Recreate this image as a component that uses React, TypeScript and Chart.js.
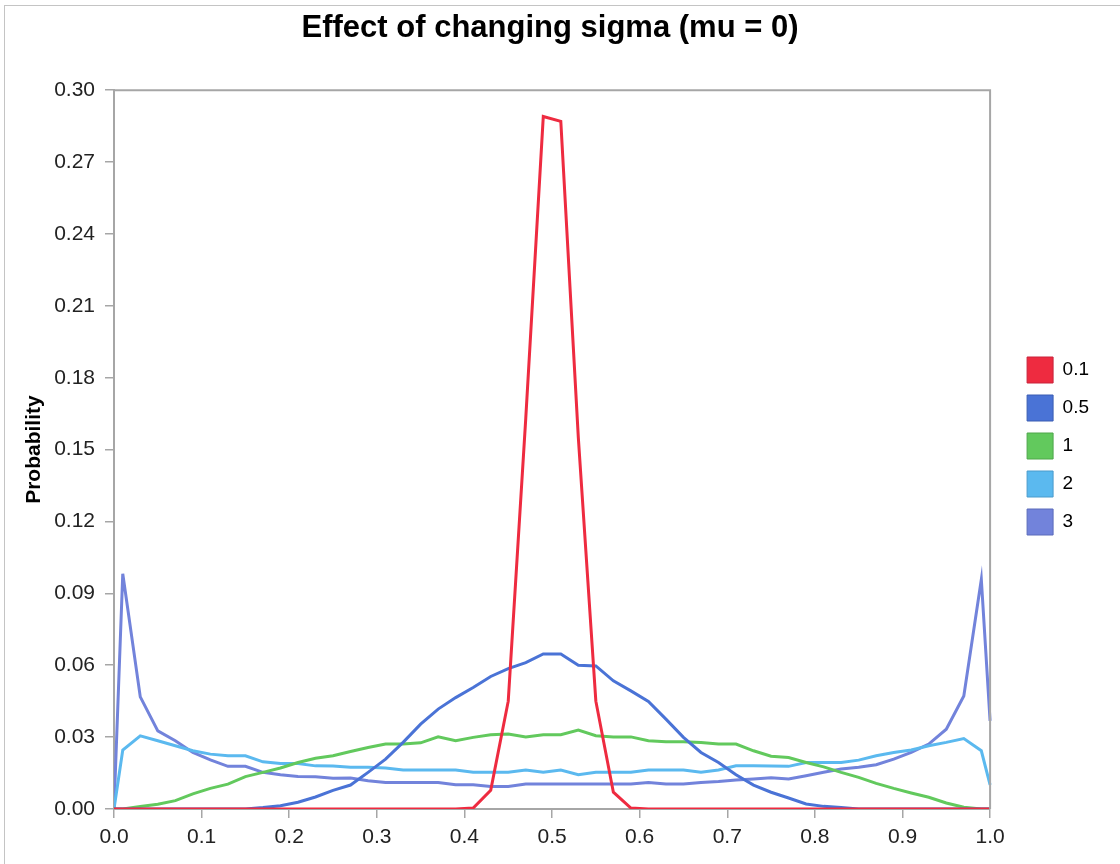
import React, { useEffect, useRef } from "react";
import { Chart, registerables } from "chart.js";

Chart.register(...registerables);

const TITLE = "Effect of changing sigma (mu = 0)";
const Y_TITLE = "Probability";

const xValues = [
  0, 0.01, 0.03, 0.05, 0.07, 0.09, 0.11, 0.13, 0.15, 0.17, 0.19, 0.21, 0.23, 0.25,
  0.27, 0.29, 0.31, 0.33, 0.35, 0.37, 0.39, 0.41, 0.43, 0.45, 0.47, 0.49, 0.51,
  0.53, 0.55, 0.57, 0.59, 0.61, 0.63, 0.65, 0.67, 0.69, 0.71, 0.73, 0.75, 0.77,
  0.79, 0.81, 0.83, 0.85, 0.87, 0.89, 0.91, 0.93, 0.95, 0.97, 0.99, 1.0,
];

const seriesLabels = ["0.1", "0.5", "1", "2", "3"];

const sigma01 = [
  0, 0, 0, 0, 0, 0, 0, 0, 0, 0, 0, 0, 0, 0,
  0, 0, 0, 0, 0, 0, 0, 0.0004, 0.0078, 0.045, 0.163, 0.289, 0.287,
  0.155, 0.045, 0.007, 0.0004, 0, 0, 0, 0, 0, 0, 0, 0, 0,
  0, 0, 0, 0, 0, 0, 0, 0, 0, 0, 0, 0,
];

const sigma05 = [
  0, 0, 0, 0, 0, 0, 0, 0, 0, 0.0006, 0.0014, 0.0028, 0.005, 0.0078,
  0.010, 0.0153, 0.0208, 0.0278, 0.0354, 0.0417, 0.0465, 0.0507, 0.0553, 0.0586, 0.0611, 0.0647, 0.0647,
  0.060, 0.0597, 0.0535, 0.0493, 0.0449, 0.0375, 0.0299, 0.0236, 0.0194, 0.0143, 0.010, 0.007, 0.0046,
  0.0021, 0.0011, 0.0006, 0, 0, 0, 0, 0, 0, 0, 0, 0,
];

const sigma1 = [
  0, 0, 0.001, 0.002, 0.0035, 0.0063, 0.0086, 0.0104, 0.0135, 0.0153, 0.0171, 0.0194, 0.0212, 0.0222,
  0.024, 0.0257, 0.0271, 0.0271, 0.0276, 0.0301, 0.0285, 0.0299, 0.031, 0.0313, 0.0301, 0.031, 0.031,
  0.0329, 0.0306, 0.0301, 0.0301, 0.0285, 0.0281, 0.0281, 0.0278, 0.0271, 0.0271, 0.0243, 0.022, 0.0215,
  0.0194, 0.0176, 0.0153, 0.0132, 0.0107, 0.0086, 0.0067, 0.0049, 0.0025, 0.0007, 0, 0,
];

const sigma2 = [
  0, 0.0246, 0.0305, 0.0285, 0.0264, 0.0243, 0.0229, 0.0222, 0.0222, 0.0197, 0.019, 0.019, 0.018, 0.0179,
  0.0174, 0.0174, 0.0171, 0.0163, 0.0163, 0.0163, 0.0163, 0.0153, 0.0153, 0.0153, 0.0163, 0.0153, 0.0163,
  0.0143, 0.0153, 0.0153, 0.0153, 0.0163, 0.0163, 0.0163, 0.0153, 0.0163, 0.018, 0.018, 0.0179, 0.0178,
  0.0194, 0.0194, 0.0194, 0.0204, 0.0222, 0.0236, 0.0246, 0.0264, 0.0278, 0.0294, 0.0243, 0.0101,
];

const sigma3 = [
  0, 0.0982, 0.0468, 0.0326, 0.0285, 0.0236, 0.0205, 0.0178, 0.0178, 0.0153, 0.0143, 0.0136, 0.0135, 0.0128,
  0.0129, 0.0118, 0.0111, 0.0111, 0.0111, 0.0111, 0.0101, 0.0101, 0.0094, 0.0094, 0.0104, 0.0104, 0.0104,
  0.0104, 0.0104, 0.0104, 0.0104, 0.0111, 0.0104, 0.0104, 0.0111, 0.0115, 0.0121, 0.0125, 0.013, 0.0125,
  0.0139, 0.0153, 0.0167, 0.0174, 0.0185, 0.0208, 0.0236, 0.0271, 0.0333, 0.0472, 0.0958, 0.0368,
];

const seriesValues = [sigma01, sigma05, sigma1, sigma2, sigma3];
const seriesColors = ["#ee2b40", "#4a73d6", "#62c95d", "#5bb9ef", "#7283db"];
const seriesEdge = ["#c9223a", "#3a5db2", "#4ea64a", "#4a9bcc", "#5b6bba"];

const FONT = '"Liberation Sans", Arial, sans-serif';
const AXIS_GRAY = "#a6a6a6";

const frameBorder = {
  id: "frameBorder",
  afterDatasetsDraw(chart: any) {
    const { ctx, chartArea } = chart;
    ctx.save();
    ctx.strokeStyle = AXIS_GRAY;
    ctx.lineWidth = 2;
    ctx.beginPath();
    ctx.moveTo(chartArea.left, chartArea.top);
    ctx.lineTo(chartArea.right, chartArea.top);
    ctx.lineTo(chartArea.right, chartArea.bottom);
    ctx.stroke();
    ctx.restore();
  },
};

const boxShift = {
  id: "boxShift",
  afterLayout(chart: any) {
    const lg = chart.legend;
    if (lg) {
      lg.left += 25;
      lg.right += 25;
      lg.top += 14;
      lg.bottom += 14;
    }
    const tb = chart.titleBlock;
    if (tb) {
      tb.left += 13;
      tb.right += 13;
    }
  },
};

export default function App() {
  const ref = useRef<HTMLCanvasElement | null>(null);

  useEffect(() => {
    if (!ref.current) return;
    const datasets = seriesLabels.map((label, i) => ({
      label,
      data: xValues.map((x, j) => ({ x, y: seriesValues[i][j] })),
      borderColor: seriesColors[i],
      backgroundColor: seriesColors[i],
      borderWidth: 3,
      pointRadius: 0,
      tension: 0,
      fill: false,
      clip: { left: 0, top: false, right: false, bottom: 0 },
    }));

    const chart = new Chart(ref.current, {
      type: "line",
      data: { datasets },
      plugins: [frameBorder, boxShift],
      options: {
        animation: false,
        responsive: false,
        maintainAspectRatio: false,
        layout: { padding: { left: 0, right: 46, top: 0, bottom: 0 } },
        plugins: {
          title: {
            display: true,
            text: TITLE,
            color: "#000",
            font: { family: FONT, size: 31, weight: "bold" },
            padding: { top: 10, bottom: 43 },
          },
          legend: {
            display: true,
            position: "right",
            labels: {
              boxWidth: 26,
              boxHeight: 26,
              padding: 12,
              color: "#222",
              font: { family: FONT, size: 19 },
              generateLabels: (ch: any) =>
                ch.data.datasets.map((d: any, i: number) => ({
                  text: d.label,
                  fillStyle: seriesColors[i],
                  strokeStyle: seriesEdge[i],
                  lineWidth: 1,
                  hidden: false,
                  datasetIndex: i,
                })),
            },
          },
          tooltip: { enabled: false },
        },
        scales: {
          x: {
            type: "linear",
            min: 0,
            max: 1,
            afterFit: (s: any) => {
              s.height = 55;
            },
            ticks: {
              stepSize: 0.1,
              autoSkip: false,
              maxRotation: 0,
              padding: 7,
              color: "#222",
              font: { family: FONT, size: 21 },
              callback: (v: any) => Number(v).toFixed(1),
            },
            grid: {
              drawOnChartArea: false,
              drawTicks: true,
              tickLength: 9,
              color: AXIS_GRAY,
              lineWidth: 1.5,
            },
            border: { display: true, color: AXIS_GRAY, width: 2 },
          },
          y: {
            min: 0,
            max: 0.3,
            afterFit: (s: any) => {
              s.width = 114;
            },
            title: {
              display: true,
              text: Y_TITLE,
              color: "#000",
              font: { family: FONT, size: 21, weight: "bold" },
              padding: { top: 22, bottom: 0 },
            },
            ticks: {
              stepSize: 0.03,
              padding: 10,
              color: "#222",
              font: { family: FONT, size: 21 },
              callback: (v: any) => Number(v).toFixed(2),
            },
            grid: {
              drawOnChartArea: false,
              drawTicks: true,
              tickLength: 9,
              color: AXIS_GRAY,
              lineWidth: 1.5,
            },
            border: { display: true, color: AXIS_GRAY, width: 2 },
          },
        },
      },
    } as any);
    return () => chart.destroy();
  }, []);

  return (
    <div
      style={{
        position: "fixed",
        left: 0,
        top: 0,
        width: 1120,
        height: 864,
        overflow: "hidden",
        background: "#fff",
      }}
    >
      <div
        style={{
          position: "absolute",
          left: 4,
          top: 5,
          width: 1300,
          height: 1000,
          border: "1px solid #c4c4c4",
        }}
      />
      <canvas
        ref={ref}
        width={1120}
        height={864}
        style={{ position: "absolute", left: 0, top: 0, width: 1120, height: 864 }}
      />
    </div>
  );
}
